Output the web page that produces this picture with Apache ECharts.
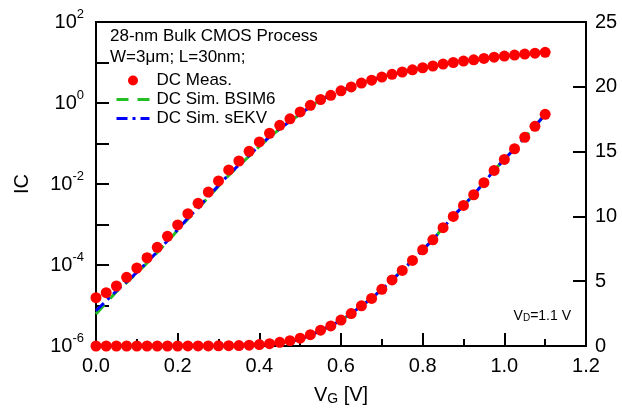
<!DOCTYPE html>
<html>
<head>
<meta charset="utf-8">
<script src="https://cdn.jsdelivr.net/npm/echarts@6/dist/echarts.min.js"></script>
<style>
html, body { margin: 0; padding: 0; background: #fff; }
#chart { width: 622px; height: 417px; }
</style>
</head>
<body>
<div id="chart"></div>
<script>
// gate voltage sweep, V
const vg = [0, 0.025, 0.05, 0.075, 0.1, 0.125, 0.15, 0.175, 0.2, 0.225, 0.25, 0.275, 0.3, 0.325, 0.35,
    0.375, 0.4, 0.425, 0.45, 0.475, 0.5, 0.525, 0.55, 0.575, 0.6, 0.625, 0.65, 0.675, 0.7, 0.725,
    0.75, 0.775, 0.8, 0.825, 0.85, 0.875, 0.9, 0.925, 0.95, 0.975, 1.0, 1.025, 1.05, 1.075, 1.1];
// measured IC
const icMeas = [1.56e-5, 2.07e-5, 3.03e-5, 4.96e-5, 8.43e-5, 1.51e-4, 2.73e-4, 5.11e-4, 9.73e-4, 1.85e-3,
    3.34e-3, 6.34e-3, 0.0119, 0.0222, 0.037, 0.0642, 0.109, 0.179, 0.281, 0.407,
    0.600, 0.877, 1.22, 1.55, 2.0, 2.5, 3.1, 3.67, 4.37, 5.1,
    5.83, 6.6, 7.42, 8.19, 9.13, 10.0, 10.85, 11.67, 12.6, 13.55,
    14.4, 15.22, 16.1, 16.95, 17.88];
// simulated IC, BSIM6
const icBsim6 = [6.2e-6, 1.16e-5, 2.19e-5, 3.68e-5, 6.25e-5, 1.12e-4, 2.03e-4, 3.79e-4, 7.21e-4, 1.37e-3,
    2.47e-3, 4.70e-3, 8.79e-3, 0.0164, 0.0281, 0.0486, 0.0845, 0.142, 0.229, 0.347,
    0.535, 0.818, 1.18, 1.55, 2.0, 2.5, 3.1, 3.67, 4.37, 5.1,
    5.83, 6.6, 7.42, 8.19, 9.13, 10.0, 10.85, 11.67, 12.6, 13.55,
    14.4, 15.22, 16.1, 16.95, 17.88];
// simulated IC, sEKV
const icSekv = [7.4e-6, 1.3e-5, 2.3e-5, 3.85e-5, 6.55e-5, 1.17e-4, 2.12e-4, 3.97e-4, 7.55e-4, 1.44e-3,
    2.59e-3, 4.92e-3, 9.2e-3, 0.0172, 0.0294, 0.0509, 0.0885, 0.145, 0.234, 0.355,
    0.537, 0.818, 1.19, 1.55, 2.0, 2.5, 3.1, 3.67, 4.37, 5.1,
    5.83, 6.6, 7.42, 8.19, 9.13, 10.0, 10.85, 11.67, 12.6, 13.55,
    14.4, 15.22, 16.1, 16.95, 17.88];
// decades that get a label on the log axis
const logLabelExps = [-6, -4, -2, 0, 2];

const font = 'Liberation Sans, Arial, sans-serif';
const pairs = (ys) => vg.map((v, i) => [v, ys[i]]);

let myChart = echarts.init(document.getElementById('chart'));

let option = {
    animation: false,
    backgroundColor: '#fff',
    textStyle: { fontFamily: font, color: '#000' },
    grid: {
        left: 96, right: 36, top: 22, bottom: 71,
        show: true, borderColor: '#000', borderWidth: 2
    },
    legend: {
        orient: 'vertical',
        left: 110, top: 67,
        itemWidth: 33, itemHeight: 10, itemGap: 2,
        textStyle: { fontSize: 17, fontFamily: font, color: '#000', padding: [0, 0, 0, 2] },
        data: [
            { name: 'DC Meas.' },
            { name: 'DC Sim. BSIM6', itemStyle: { opacity: 0 }, lineStyle: { width: 3, color: '#22c022', type: [12, 9] } },
            { name: 'DC Sim. sEKV', itemStyle: { opacity: 0 }, lineStyle: { width: 3, color: '#0000ff', type: [11, 5, 3, 5] } }
        ]
    },
    xAxis: {
        type: 'value', min: 0, max: 1.2, interval: 0.2,
        name: '{v|V}{g|G}{v| [V]}',
        nameLocation: 'middle', nameGap: 38,
        nameTextStyle: {
            rich: {
                v: { fontSize: 20, fontFamily: font, color: '#000' },
                g: { fontSize: 14, fontFamily: font, color: '#000', verticalAlign: 'bottom', padding: [8, 0, 0, 0] }
            }
        },
        axisLine: { lineStyle: { color: '#000', width: 2 } },
        axisTick: { inside: true, length: 13, lineStyle: { color: '#000', width: 2 } },
        minorTick: { show: true, splitNumber: 2, length: 7, lineStyle: { color: '#000', width: 2 } },
        splitLine: { show: false },
        axisLabel: {
            fontSize: 20, fontFamily: font, color: '#000', margin: 10,
            formatter: (v) => v.toFixed(1)
        }
    },
    yAxis: [{
        type: 'log', logBase: 10, min: 1e-6, max: 1e2, interval: 1,
        name: 'IC', nameLocation: 'middle', nameGap: 64,
        nameTextStyle: { fontSize: 20, fontFamily: font, color: '#000' },
        axisLine: { show: true, lineStyle: { color: '#000', width: 2 } },
        axisTick: { inside: true, length: 13, lineStyle: { color: '#000', width: 2 } },
        splitLine: { show: false },
        axisLabel: {
            margin: 12,
            formatter: function (v) {
                let e = Math.round(Math.log10(v));
                if (logLabelExps.indexOf(e) < 0) return '';
                return '{b|10}{s|' + e + '}';
            },
            rich: {
                b: { fontSize: 20, fontFamily: font, color: '#000', lineHeight: 28 },
                s: { fontSize: 13, fontFamily: font, color: '#000', verticalAlign: 'top' }
            }
        }
    }, {
        type: 'value', min: 0, max: 25, interval: 5, position: 'right',
        axisLine: { show: true, lineStyle: { color: '#000', width: 2 } },
        axisTick: { inside: true, length: 13, lineStyle: { color: '#000', width: 2 } },
        splitLine: { show: false },
        axisLabel: { fontSize: 20, fontFamily: font, color: '#000', margin: 9 }
    }],
    graphic: [
        { type: 'text', left: 110, top: 28, style: { text: '28-nm Bulk CMOS Process', font: '17px ' + font, fill: '#000' } },
        { type: 'text', left: 110, top: 49, style: { text: 'W=3\u03bcm; L=30nm;', font: '17px ' + font, fill: '#000' } },
        {
            type: 'text', right: 51, top: 309,
            style: {
                text: '{a|V}{d|D}{a|=1.1 V}',
                rich: {
                    a: { fontSize: 14, fontFamily: font, fill: '#000' },
                    d: { fontSize: 10, fontFamily: font, fill: '#000', verticalAlign: 'bottom' }
                }
            }
        }
    ],
    series: [
        {
            name: 'DC Sim. BSIM6', type: 'line', yAxisIndex: 0, data: pairs(icBsim6),
            showSymbol: false, symbol: 'none', z: 2,
            itemStyle: { color: '#22c022' },
            lineStyle: { color: '#22c022', width: 3, type: [12, 9] }
        },
        {
            name: 'DC Sim. BSIM6', type: 'line', yAxisIndex: 1, data: pairs(icBsim6),
            showSymbol: false, symbol: 'none', z: 2,
            itemStyle: { color: '#22c022' },
            lineStyle: { color: '#22c022', width: 3, type: [12, 9] }
        },
        {
            name: 'DC Sim. sEKV', type: 'line', yAxisIndex: 0, data: pairs(icSekv),
            showSymbol: false, symbol: 'none', z: 3,
            itemStyle: { color: '#0000ff' },
            lineStyle: { color: '#0000ff', width: 3, type: [11, 5, 3, 5] }
        },
        {
            name: 'DC Sim. sEKV', type: 'line', yAxisIndex: 1, data: pairs(icSekv),
            showSymbol: false, symbol: 'none', z: 3,
            itemStyle: { color: '#0000ff' },
            lineStyle: { color: '#0000ff', width: 3, type: [11, 5, 3, 5] }
        },
        {
            name: 'DC Meas.', type: 'scatter', yAxisIndex: 0, data: pairs(icMeas),
            symbol: 'circle', symbolSize: 11, z: 5,
            itemStyle: { color: '#ff0000', opacity: 1 }
        },
        {
            name: 'DC Meas.', type: 'scatter', yAxisIndex: 1, data: pairs(icMeas),
            symbol: 'circle', symbolSize: 11, z: 5, clip: false,
            itemStyle: { color: '#ff0000', opacity: 1 }
        }
    ]
};
myChart.setOption(option);
</script>
</body>
</html>
